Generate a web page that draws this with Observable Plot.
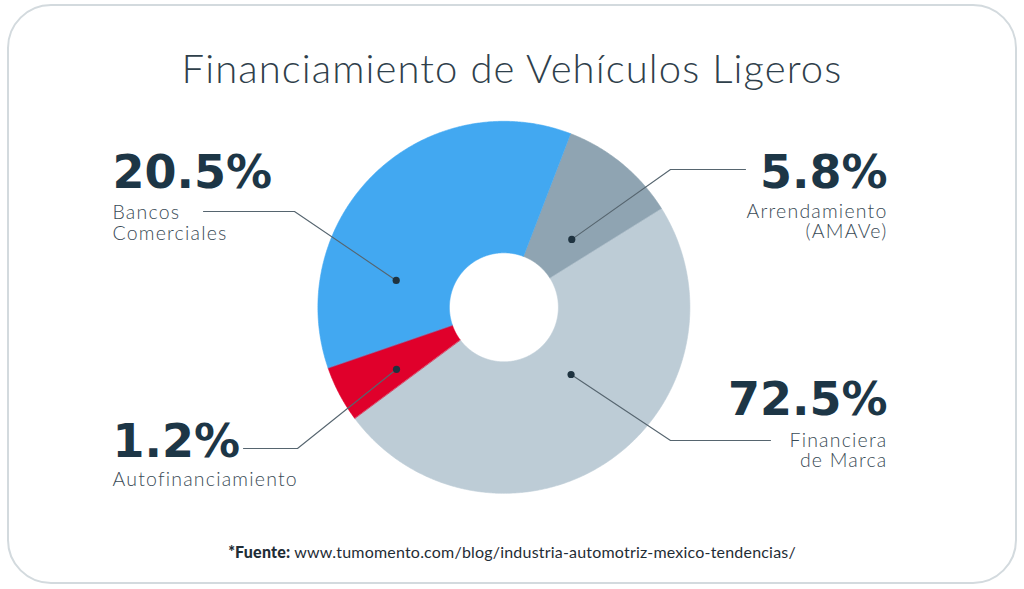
<!DOCTYPE html>
<html><head><meta charset="utf-8">
<script src="https://cdn.jsdelivr.net/npm/d3@7"></script>
<script src="https://cdn.jsdelivr.net/npm/@observablehq/plot@0.6"></script>
<style>
html,body{margin:0;padding:0;background:#fff;}
#wrap{position:relative;width:1024px;height:589px;overflow:hidden;font-family:Lato,"Open Sans",sans-serif;}
#frame{position:absolute;left:7px;top:4px;width:1006px;height:576px;border:2px solid #d3dade;border-radius:44px;}
#chart{position:absolute;left:0;top:0;}
#title{position:absolute;left:0;width:1024px;top:48px;text-align:center;font-size:40px;line-height:40px;letter-spacing:1.1px;font-weight:300;color:#2f404b;white-space:nowrap;}
#foot{position:absolute;left:0;width:1024px;top:544px;text-align:center;font-size:16px;line-height:16px;letter-spacing:0.2px;font-weight:400;color:#1f2d36;white-space:nowrap;}
#foot b{font-weight:900;}
</style>
</head><body>
<div id="wrap">
  <div id="frame"></div>
  <div id="chart"></div>
  <div id="title">Financiamiento de Vehículos Ligeros</div>
  <div id="foot"><b>*Fuente:</b> www.tumomento.com/blog/industria-automotriz-mexico-tendencias/</div>
</div>
<script>
// ---- data ----
const categories = ["Arrendamiento (AMAVe)", "Financiera de Marca", "Autofinanciamiento", "Bancos Comerciales"];
const labelValues = ["5.8%", "72.5%", "1.2%", "20.5%"];
const labelLines = [["Arrendamiento", "(AMAVe)"], ["Financiera", "de Marca"], ["Autofinanciamiento"], ["Bancos", "Comerciales"]];
// share of the ring as drawn in the reference (percent of circle)
const drawnShares = [10.3, 48.7, 4.9, 36.1];
const colors = ["#8fa4b2", "#bdccd6", "#e0002b", "#42a8f1"];

// ---- layout ----
const W = 1024, H = 589;
const CX = 503.4, CY = 306.8, R_OUT = 186, R_IN = 54.5, START = 21;
// annotation layout per category: dot (polar), elbow, line end, text anchor
const annot = [
  {dotA: 45, dotR: 96, ex: 670, ey: 169, endX: 745, tx: 887, anchor: "end", numY: 187, lineY: [217, 237]},
  {dotA: 135, dotR: 95, ex: 670, ey: 440, endX: 770, tx: 887, anchor: "end", numY: 414, lineY: [446, 466]},
  {dotA: 240, dotR: 124, ex: 297, ey: 448, endX: 243, tx: 112, anchor: "start", numY: 456, lineY: [485]},
  {dotA: 284, dotR: 111, ex: 294, ey: 211, endX: 203, tx: 112, anchor: "start", numY: 187, lineY: [218, 239]}
];

const rad = a => a * Math.PI / 180;
const polar = (a, r) => [CX + r * Math.sin(rad(a)), CY - r * Math.cos(rad(a))];

// ring slices as polygons
const total = d3.sum(drawnShares);
const slicePts = [];
let acc = START;
categories.forEach((c, i) => {
  const a0 = acc, a1 = acc + drawnShares[i] / total * 360; acc = a1;
  const n = Math.max(8, Math.ceil((a1 - a0) * 2));
  for (let k = 0; k <= n; k++) { const [x, y] = polar(a0 + (a1 - a0) * k / n, R_OUT); slicePts.push({cat: c, x, y}); }
  for (let k = n; k >= 0; k--) { const [x, y] = polar(a0 + (a1 - a0) * k / n, R_IN); slicePts.push({cat: c, x, y}); }
});

const leaderPts = [], dots = [], numbers = [], lines = [];
categories.forEach((c, i) => {
  const L = annot[i];
  const [dx, dy] = polar(L.dotA, L.dotR);
  dots.push({cat: c, x: dx, y: dy});
  leaderPts.push({cat: c, x: dx, y: dy}, {cat: c, x: L.ex, y: L.ey}, {cat: c, x: L.endX, y: L.ey});
  numbers.push({text: labelValues[i], x: L.tx, y: L.numY, anchor: L.anchor});
  labelLines[i].forEach((t, j) => lines.push({text: t, x: L.tx, y: L.lineY[j], anchor: L.anchor}));
});

const numStyle = {x: "x", y: "y", text: "text", lineAnchor: "bottom", fontSize: 46, fontWeight: "bold", fontFamily: "DejaVu Sans", fill: "#1d3646"};
const lineStyle = {x: "x", y: "y", text: "text", lineAnchor: "bottom", fontSize: 19.5, fontWeight: 300, fontFamily: "Lato", fill: "#3a4b56"};

const chart = Plot.plot({
  width: W, height: H,
  margin: 0,
  x: {domain: [0, W], range: [0, W], axis: null},
  y: {domain: [0, H], range: [0, H], axis: null},
  color: {domain: categories, range: colors},
  style: {background: "transparent"},
  marks: [
    Plot.line(slicePts, {x: "x", y: "y", z: "cat", fill: "cat", stroke: "cat", strokeWidth: 0.6, curve: "linear-closed"}),
    Plot.line(leaderPts, {x: "x", y: "y", z: "cat", stroke: "#56656f", strokeWidth: 1.1}),
    Plot.dot(dots, {x: "x", y: "y", r: 3.6, fill: "#1f3340", stroke: "none"}),
    Plot.text(numbers.filter(d => d.anchor === "start"), {...numStyle, textAnchor: "start"}),
    Plot.text(numbers.filter(d => d.anchor === "end"), {...numStyle, textAnchor: "end"}),
    Plot.text(lines.filter(d => d.anchor === "start"), {...lineStyle, textAnchor: "start"}),
    Plot.text(lines.filter(d => d.anchor === "end"), {...lineStyle, textAnchor: "end"})
  ]
});
chart.querySelectorAll("text").forEach(t => {
  if (t.closest("g") && t.closest("g").getAttribute("font-weight") === "300") t.style.letterSpacing = "1.2px";
});
document.getElementById("chart").appendChild(chart);
</script>
</body></html>
